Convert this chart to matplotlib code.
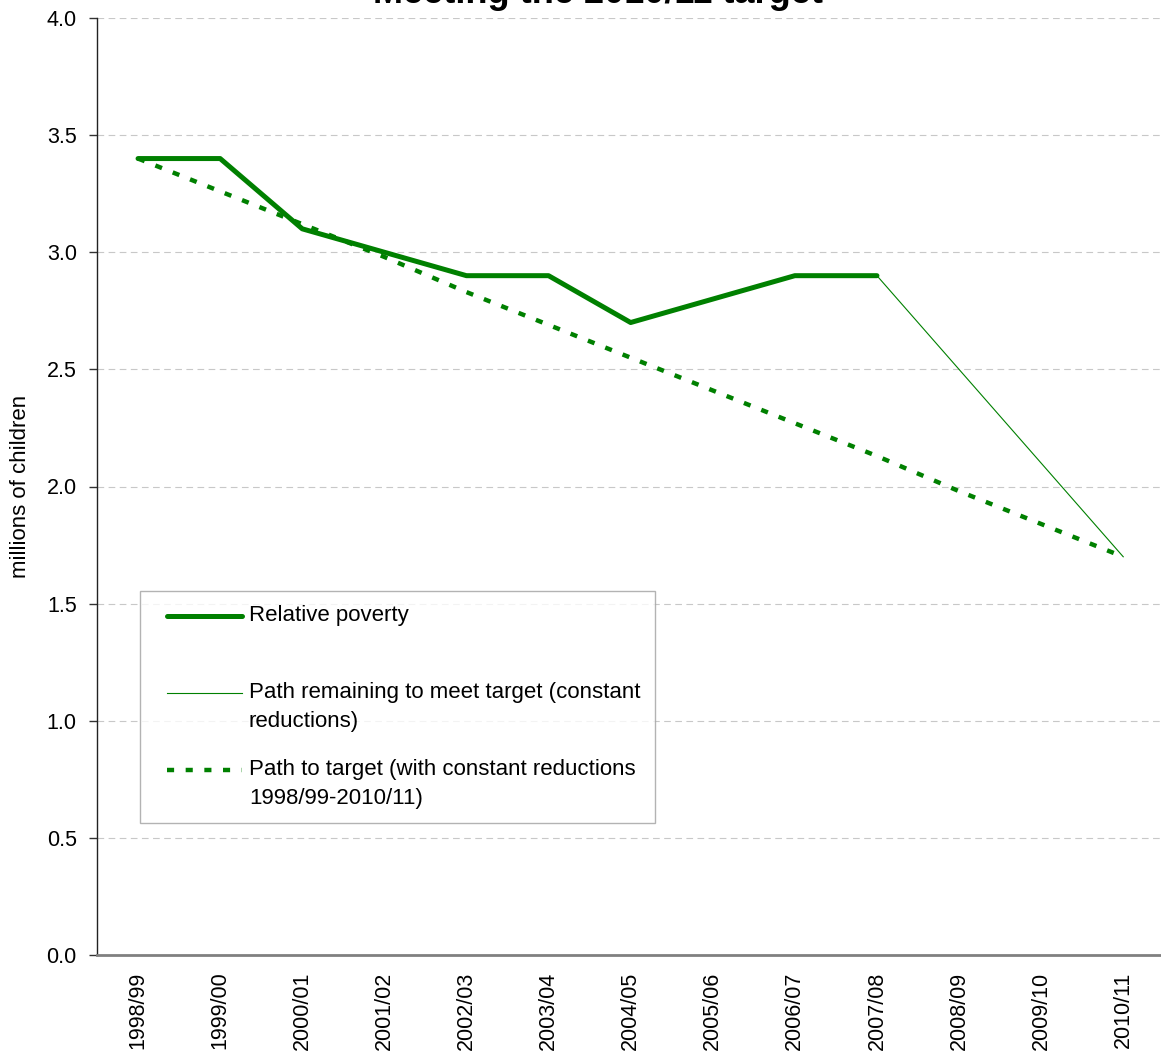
import matplotlib.pyplot as plt
import numpy as np
from matplotlib.legend_handler import HandlerLine2D

plt.rcParams["font.family"] = ["Liberation Sans", "DejaVu Sans"]

anos = ["1998/99", "1999/00", "2000/01", "2001/02", "2002/03", "2003/04",
        "2004/05", "2005/06", "2006/07", "2007/08", "2008/09", "2009/10",
        "2010/11"]

# pobreza relativa observada (milhões de crianças), 1998/99 a 2007/08
pobreza_relativa = [3.4, 3.4, 3.1, 3.0, 2.9, 2.9, 2.7, 2.8, 2.9, 2.9]

# caminho restante até a meta, 2007/08 a 2010/11
caminho_restante = [2.9, 2.5, 2.1, 1.7]

# caminho até a meta com reduções constantes, 1998/99 a 2010/11
caminho_meta = [3.40, 3.26, 3.12, 2.98, 2.83, 2.69, 2.55, 2.41, 2.27,
                2.13, 1.98, 1.84, 1.70]

rotulos = [
    "Relative poverty\n",
    "Path remaining to meet target (constant\nreductions)",
    "Path to target (with constant reductions\n1998/99-2010/11)",
]

verde = "#008000"


class HandlerPrimeiraLinha(HandlerLine2D):
    """Alinha a linha da legenda com a primeira linha do rótulo."""

    def __init__(self, subida=0.0, **kw):
        super().__init__(**kw)
        self.subida = subida

    def create_artists(self, legend, orig_handle, xdescent, ydescent,
                       width, height, fontsize, trans):
        artistas = super().create_artists(legend, orig_handle, xdescent,
                                          ydescent, width, height,
                                          fontsize, trans)
        for a in artistas:
            a.set_ydata(np.asarray(a.get_ydata()) + self.subida * fontsize)
        return artistas


fig = plt.figure(figsize=(11.61, 10.57), dpi=100)
ax = fig.add_axes([97 / 1161, 102 / 1057, 1064 / 1161, 937 / 1057])

x = list(range(len(anos)))

l1, = ax.plot(x[:len(pobreza_relativa)], pobreza_relativa, color=verde,
              linewidth=3.6, solid_capstyle="round", solid_joinstyle="round",
              label=rotulos[0], zorder=3)
l2, = ax.plot(x[len(pobreza_relativa) - 1:], caminho_restante, color=verde,
              linewidth=0.8, label=rotulos[1], zorder=2)
l3, = ax.plot(x, caminho_meta, color=verde, linewidth=3.2,
              linestyle=(0, (1.6, 2.6)), label=rotulos[2], zorder=4)

ax.set_xlim(-0.5, 12.46)
ax.set_ylim(0, 4.0)
ax.set_yticks([0.0, 0.5, 1.0, 1.5, 2.0, 2.5, 3.0, 3.5, 4.0])
ax.set_yticklabels([f"{v:.1f}" for v in ax.get_yticks()])
ax.set_xticks(x)
ax.set_xticklabels(anos, rotation=90, va="top", ha="center")

ax.tick_params(axis="y", labelsize=15.5, length=6, width=1, pad=8.5,
               color="#333333")
ax.tick_params(axis="x", labelsize=15.5, length=0, pad=12)

ax.yaxis.grid(True, linestyle=(0, (6, 4)), color="#c8c8c8", linewidth=0.8)
ax.set_axisbelow(True)

for lado in ["top", "right"]:
    ax.spines[lado].set_visible(False)
ax.spines["left"].set_color("#222222")
ax.spines["left"].set_linewidth(1.0)
ax.spines["bottom"].set_color("#808080")
ax.spines["bottom"].set_linewidth(2.0)

ax.set_ylabel("millions of children", fontsize=16, labelpad=11)

handler = HandlerPrimeiraLinha(subida=0.65, xpad=0.57)
leg = ax.legend(handles=[l1, l2, l3], loc="upper left",
                bbox_to_anchor=(43 / 1064, 364 / 937),
                fontsize=16, frameon=True, fancybox=False, shadow=False,
                handlelength=3.95, handletextpad=0.3, borderpad=0.65,
                labelspacing=1.25, borderaxespad=0,
                handler_map={l1: handler, l2: handler, l3: handler})
leg.get_frame().set_edgecolor("#a0a0a0")
leg.get_frame().set_linewidth(1.0)
for t in leg.get_texts():
    t.set_linespacing(1.45)

fig.text(598 / 1161, 1 - 3 / 1057, "Meeting the 2010/11 target",
         ha="center", va="baseline", fontsize=26, fontweight="bold")

plt.savefig("out.png", dpi=100)
plt.close()
